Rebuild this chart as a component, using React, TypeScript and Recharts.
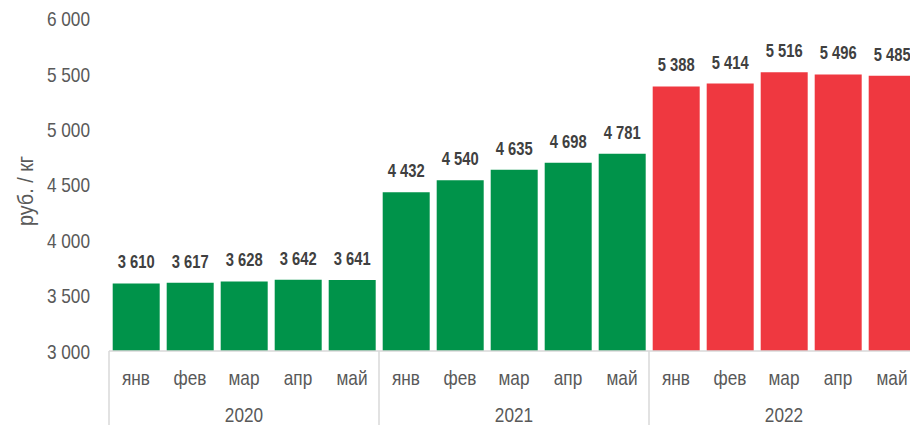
import React from "react";
import { BarChart, Bar, XAxis, YAxis, Cell, LabelList } from "recharts";

const months = ["янв", "фев", "мар", "апр", "май", "янв", "фев", "мар", "апр", "май", "янв", "фев", "мар", "апр", "май"];
const years = ["2020", "2020", "2020", "2020", "2020", "2021", "2021", "2021", "2021", "2021", "2022", "2022", "2022", "2022", "2022"];
const prices = [3610, 3617, 3628, 3642, 3641, 4432, 4540, 4635, 4698, 4781, 5388, 5414, 5516, 5496, 5485];
const yTicks = [3000, 3500, 4000, 4500, 5000, 5500, 6000];
const yearLabels = ["2020", "2021", "2022"];

const GREEN = "#00934A";
const RED = "#EF3840";
const FONT = "'Liberation Sans', Arial, sans-serif";
const NARROW = 0.82;

const data = months.map((m, i) => ({ month: m, year: years[i], value: prices[i] }));

const fmt = (v: number) => {
  const s = String(Math.round(v));
  return s.replace(/\B(?=(\d{3})+(?!\d))/g, " ");
};

const CHART_W = 920;
const CHART_H = 417;
const MARGIN = { top: 10.6, right: 9, bottom: 0, left: 0 };
const YAXIS_W = 101;
const XAXIS_H = 74;
const BAND = (CHART_W - MARGIN.left - MARGIN.right - YAXIS_W) / months.length;

const NText = ({ x, y, anchor = "middle", size = 21, fill = "#595959", weight = "normal", rotate = 0, scale = NARROW, baseline, children }: any) => (
  <text
    transform={`translate(${x} ${y}) rotate(${rotate}) scale(${scale} 1)`}
    x={0}
    y={0}
    textAnchor={anchor}
    dominantBaseline={baseline}
    fill={fill}
    fontSize={size}
    fontWeight={weight}
    fontFamily={FONT}
  >
    {children}
  </text>
);

const MonthTick = (props: any) => {
  const { x, y, payload, index } = props;
  const yearIdx = Math.floor(index / 5);
  return (
    <g>
      <NText x={x} y={y + 34}>{payload.value}</NText>
      {index % 5 === 2 && <NText x={x} y={y + 71}>{yearLabels[yearIdx]}</NText>}
      {index % 5 === 0 && (
        <line x1={x - BAND / 2} x2={x - BAND / 2} y1={y} y2={y + XAXIS_H} stroke="#D9D9D9" strokeWidth={1.5} />
      )}
      {index === months.length - 1 && (
        <line x1={x + BAND / 2} x2={x + BAND / 2} y1={y} y2={y + XAXIS_H} stroke="#D9D9D9" strokeWidth={1.5} />
      )}
    </g>
  );
};

const YTick = (props: any) => {
  const { x, y, payload } = props;
  return (
    <NText x={x} y={y + 7.5} anchor="end">
      {fmt(payload.value)}
    </NText>
  );
};

const ValueLabel = (props: any) => {
  const { x, y, width, value } = props;
  return (
    <NText x={x + width / 2} y={y - 15} size={18} weight="bold" fill="#404040">
      {fmt(value)}
    </NText>
  );
};

export default function App() {
  return (
    <div style={{ position: "fixed", left: 8, top: 8, width: 902, height: 417, overflow: "hidden", background: "#fff" }}>
      <BarChart width={CHART_W} height={CHART_H} data={data} margin={MARGIN} barCategoryGap={3.7}>
        <XAxis
          dataKey="month"
          interval={0}
          tickLine={false}
          tickSize={0}
          tickMargin={0}
          height={XAXIS_H}
          axisLine={{ stroke: "#D9D9D9", strokeWidth: 1.5 }}
          tick={<MonthTick />}
        />
        <YAxis
          domain={[3000, 6000]}
          ticks={yTicks}
          width={YAXIS_W}
          axisLine={false}
          tickLine={false}
          tickSize={0}
          tickMargin={19}
          allowDataOverflow
          tick={<YTick />}
          label={() => (
            <NText x={17.5} y={183} rotate={-90} baseline="central" size={22} scale={0.9}>
              руб. / кг
            </NText>
          )}
        />
        <Bar dataKey="value" isAnimationActive={false}>
          {data.map((d, i) => (
            <Cell key={i} fill={d.year === "2022" ? RED : GREEN} />
          ))}
          <LabelList dataKey="value" content={<ValueLabel />} />
        </Bar>
      </BarChart>
    </div>
  );
}
